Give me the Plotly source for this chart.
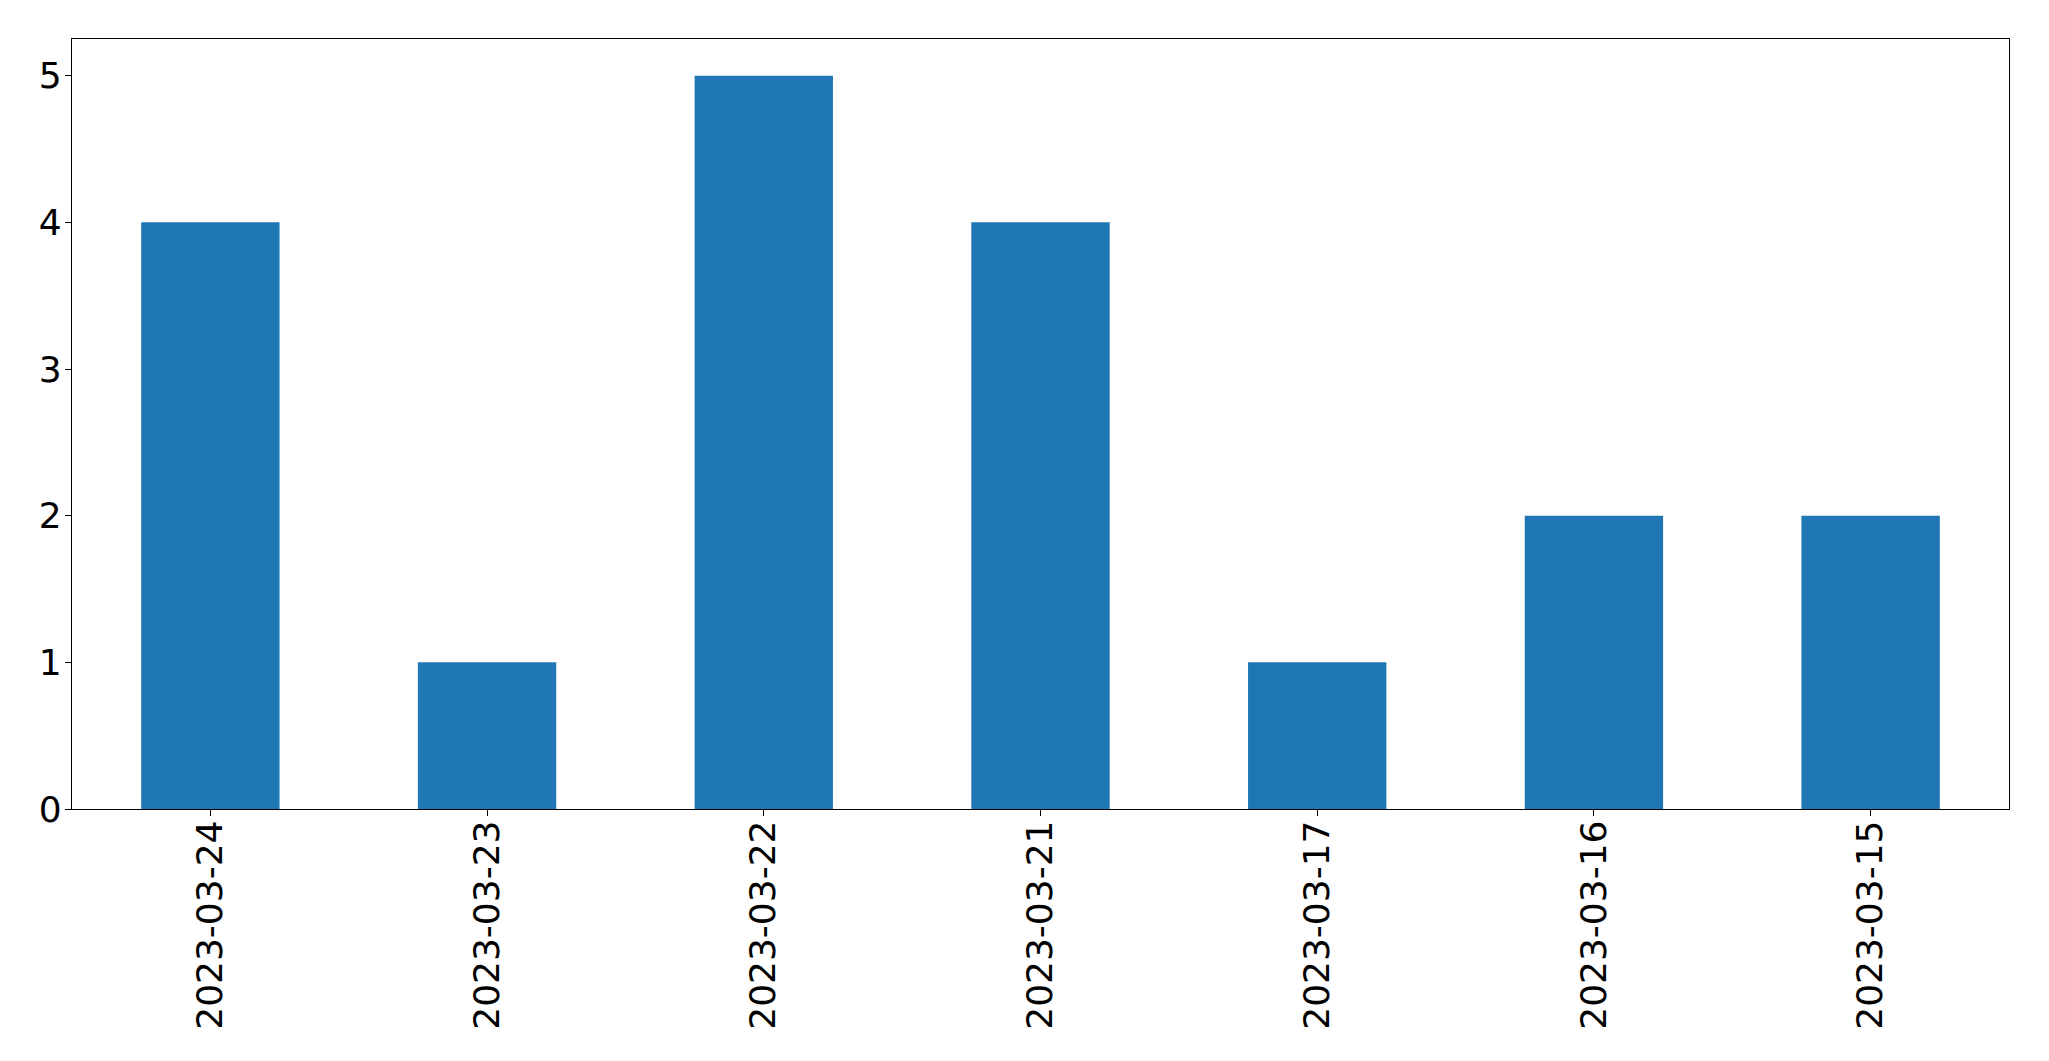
import plotly.graph_objects as go

dates = ["2023-03-24", "2023-03-23", "2023-03-22", "2023-03-21", "2023-03-17", "2023-03-16", "2023-03-15"]
counts = [4, 1, 5, 4, 1, 2, 2]
y_ticks = [0, 1, 2, 3, 4, 5]

fig = go.Figure(go.Bar(x=dates, y=counts, width=0.5, marker=dict(color="#1f77b4", line=dict(width=0))))

# page body has an 8px default margin; offsets compensate for it
fig.update_layout(
    width=2049, height=1061,
    margin=dict(l=64, r=48, t=31, b=260),
    plot_bgcolor="white", paper_bgcolor="white",
    font=dict(family="DejaVu Sans", size=36, color="black"),
    showlegend=False,
)
fig.update_xaxes(
    type="category", range=[-0.5, 6.5], tickangle=-90,
    showline=True, linecolor="black", linewidth=1.3, mirror=True,
    ticks="outside", ticklen=6, tickcolor="black", tickwidth=1.3,
    showgrid=False, ticklabelstandoff=-10,
)
fig.update_yaxes(
    range=[0, 5.25], tickvals=y_ticks,
    showline=True, linecolor="black", linewidth=1.3, mirror=True,
    ticks="outside", ticklen=6, tickcolor="black", tickwidth=1.3,
    showgrid=False, zeroline=False, ticklabelstandoff=-4,
)

fig.write_html("out.html")
